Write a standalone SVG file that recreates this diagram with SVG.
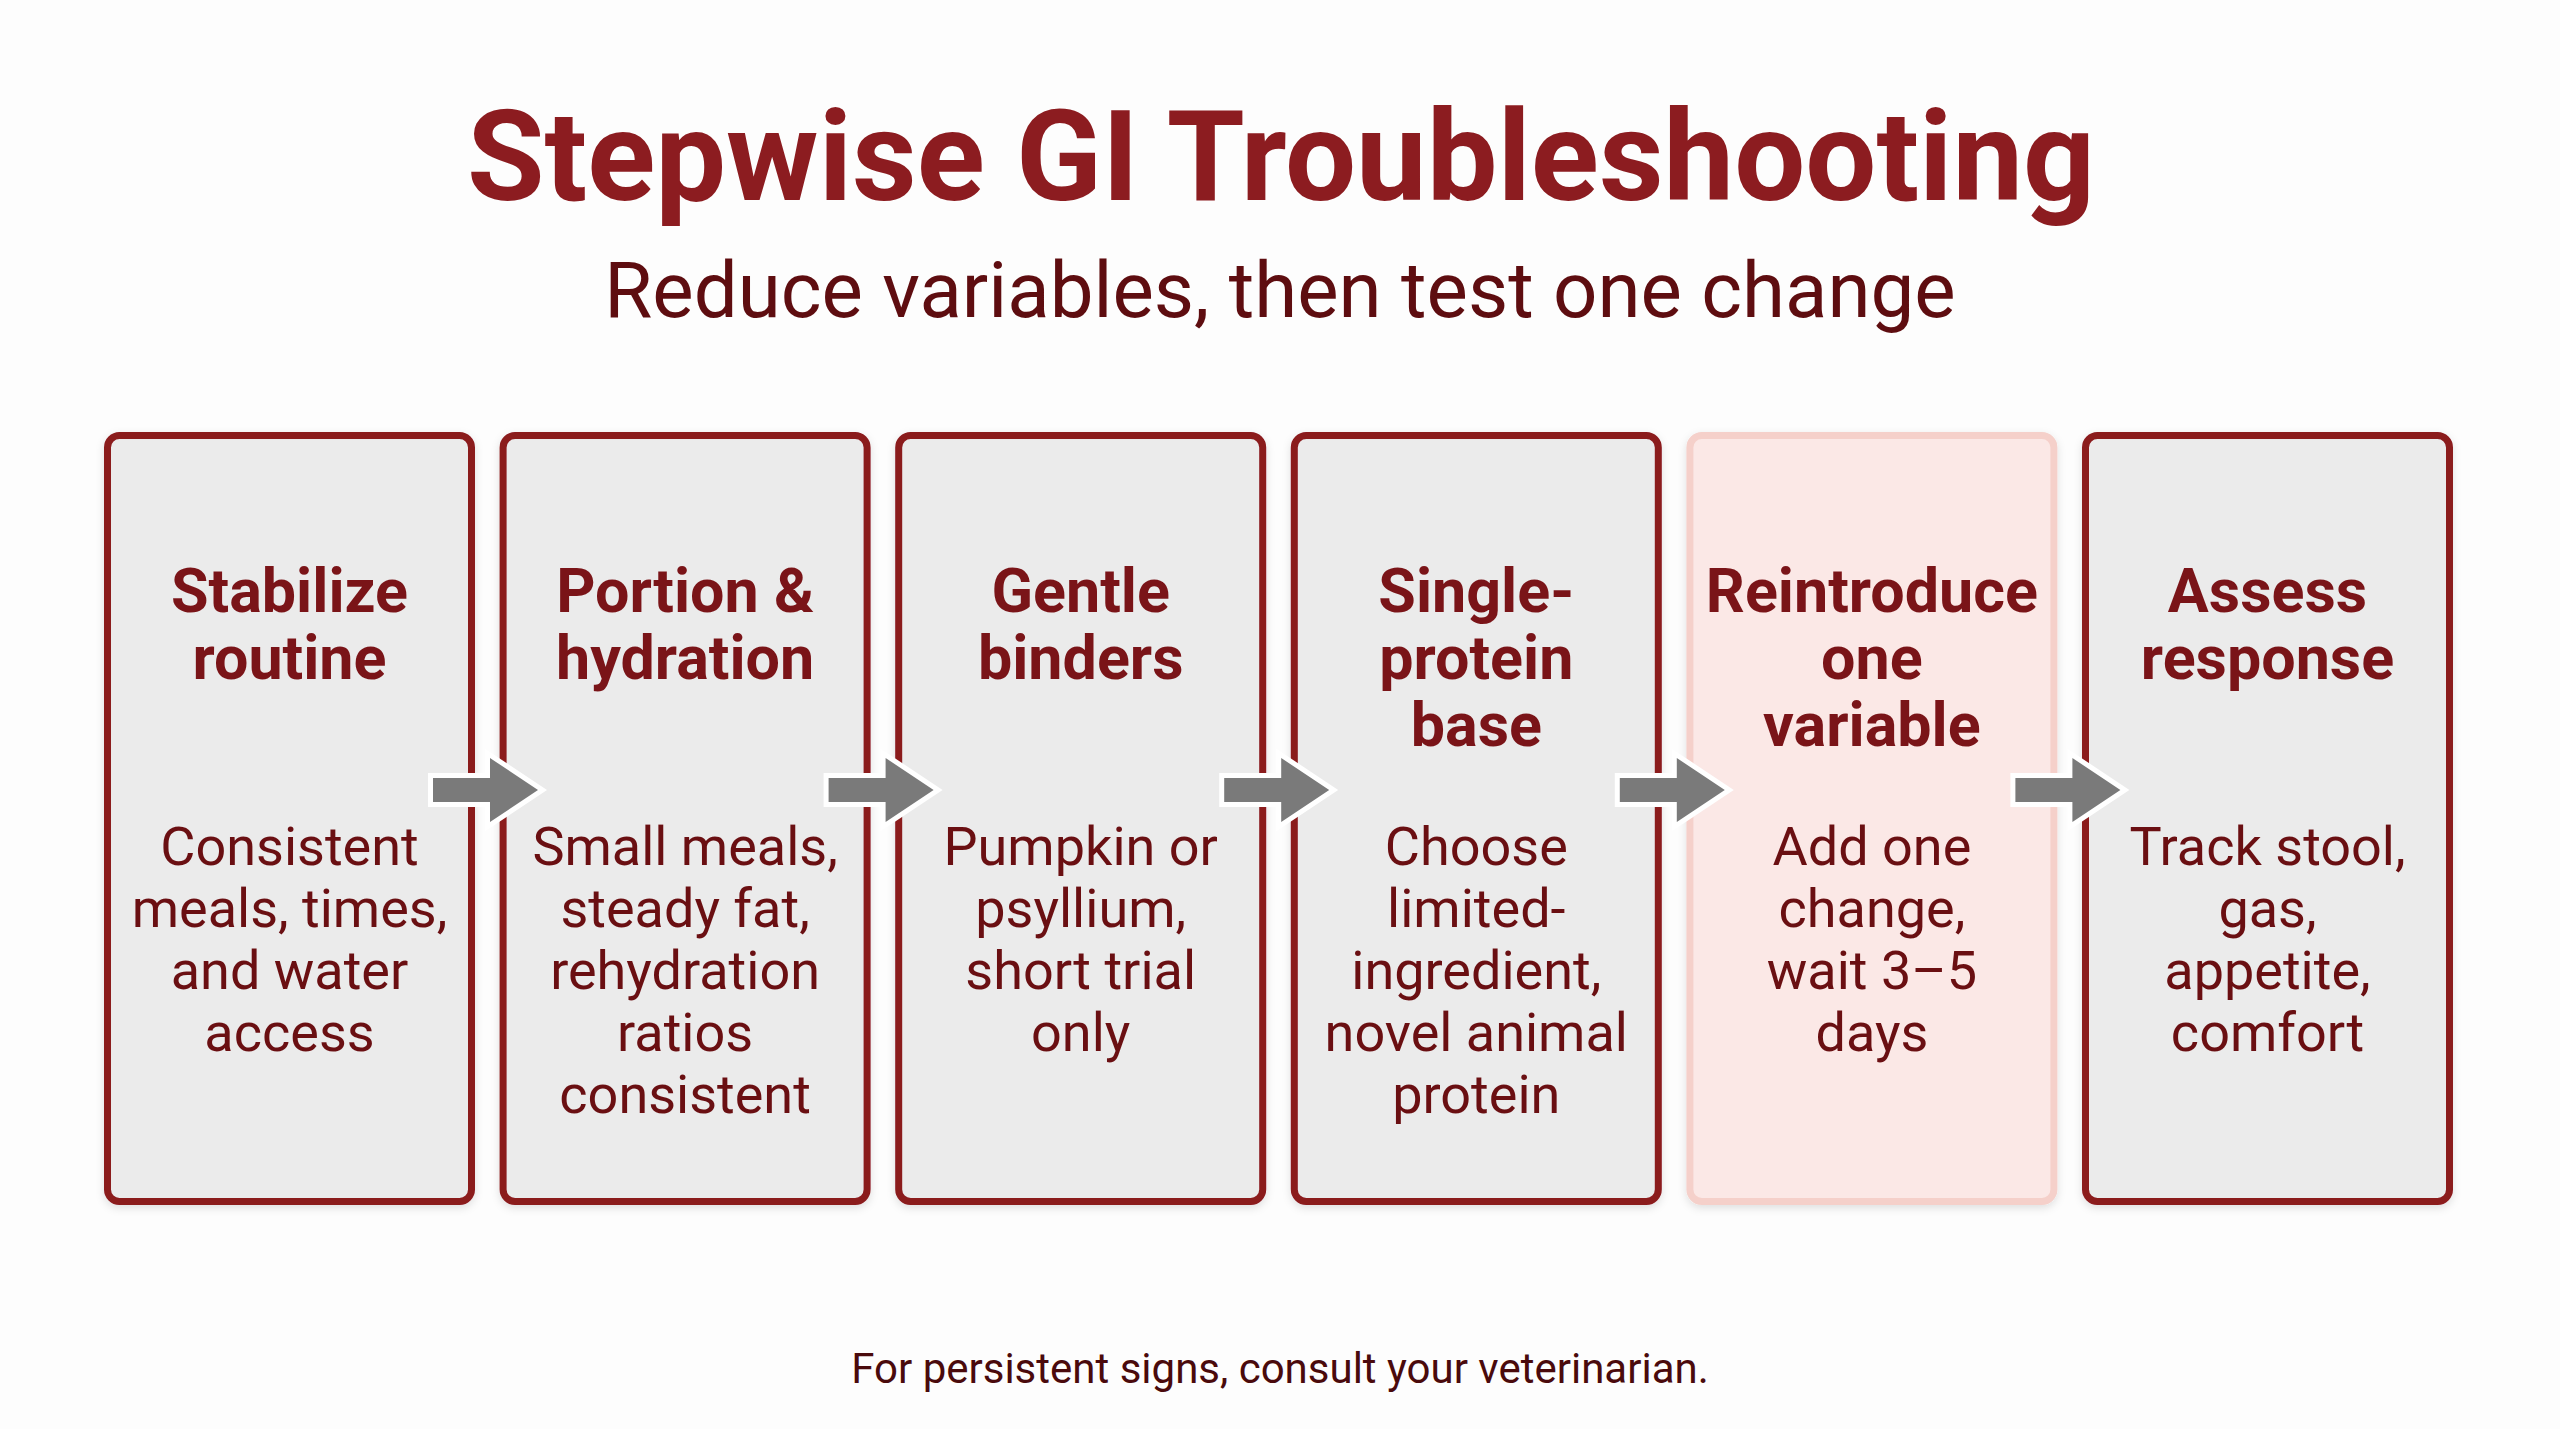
<svg xmlns="http://www.w3.org/2000/svg" width="2560" height="1429" viewBox="0 0 2560 1429">
<defs>
<style>
.bg{fill:#fdfdfd}
.title{font-family:Roboto,"Liberation Sans",sans-serif;font-weight:700;font-size:126px;fill:#8c1c20;text-anchor:middle}
.sub{font-family:Roboto,"Liberation Sans",sans-serif;font-weight:400;font-size:78px;fill:#5e0d10;text-anchor:middle}
.box{fill:#ebebeb;stroke:#8b1a1f;stroke-width:7}
.box.hl{fill:#fbe8e6;stroke:#f5d0ca}
.nt{font-family:Roboto,"Liberation Sans",sans-serif;font-weight:700;font-size:61px;fill:#7a1418;text-anchor:middle}
.nb{font-family:Roboto,"Liberation Sans",sans-serif;font-weight:400;font-size:54px;fill:#6a0f12;text-anchor:middle}
.arrow{fill:#7a7a7a;stroke:#ffffff;stroke-width:10;stroke-linejoin:miter;paint-order:stroke}
.foot{font-family:Roboto,"Liberation Sans",sans-serif;font-weight:400;font-size:42px;fill:#4a0a0c;text-anchor:middle}
</style>
<filter id="sh" x="-10%" y="-10%" width="120%" height="120%">
<feDropShadow dx="0" dy="3" stdDeviation="4" flood-color="#000" flood-opacity="0.12"/>
</filter>
</defs>
<rect class="bg" x="0" y="0" width="2560" height="1429"/>
<g id="header">
<text class="title" x="1281" y="200">Stepwise GI Troubleshooting</text>
<text class="sub" x="1280" y="317">Reduce variables, then test one change</text>
</g>
<g id="node1">
<rect class="box" x="107.5" y="435.5" width="364" height="766" rx="12" filter="url(#sh)"/>
<text class="nt" x="289.5" y="612">Stabilize</text>
<text class="nt" x="289.5" y="679">routine</text>
<text class="nb" x="289.5" y="865">Consistent</text>
<text class="nb" x="289.5" y="927">meals, times,</text>
<text class="nb" x="289.5" y="989">and water</text>
<text class="nb" x="289.5" y="1051">access</text>
</g>
<g id="node2">
<rect class="box" x="503.1" y="435.5" width="364" height="766" rx="12" filter="url(#sh)"/>
<text class="nt" x="685.1" y="612">Portion &amp;</text>
<text class="nt" x="685.1" y="679">hydration</text>
<text class="nb" x="685.1" y="865">Small meals,</text>
<text class="nb" x="685.1" y="927">steady fat,</text>
<text class="nb" x="685.1" y="989">rehydration</text>
<text class="nb" x="685.1" y="1051">ratios</text>
<text class="nb" x="685.1" y="1113">consistent</text>
</g>
<g id="node3">
<rect class="box" x="898.7" y="435.5" width="364" height="766" rx="12" filter="url(#sh)"/>
<text class="nt" x="1080.7" y="612">Gentle</text>
<text class="nt" x="1080.7" y="679">binders</text>
<text class="nb" x="1080.7" y="865">Pumpkin or</text>
<text class="nb" x="1080.7" y="927">psyllium,</text>
<text class="nb" x="1080.7" y="989">short trial</text>
<text class="nb" x="1080.7" y="1051">only</text>
</g>
<g id="node4">
<rect class="box" x="1294.3" y="435.5" width="364" height="766" rx="12" filter="url(#sh)"/>
<text class="nt" x="1476.3" y="612">Single-</text>
<text class="nt" x="1476.3" y="679">protein</text>
<text class="nt" x="1476.3" y="746">base</text>
<text class="nb" x="1476.3" y="865">Choose</text>
<text class="nb" x="1476.3" y="927">limited-</text>
<text class="nb" x="1476.3" y="989">ingredient,</text>
<text class="nb" x="1476.3" y="1051">novel animal</text>
<text class="nb" x="1476.3" y="1113">protein</text>
</g>
<g id="node5">
<rect class="box hl" x="1689.9" y="435.5" width="364" height="766" rx="12" filter="url(#sh)"/>
<text class="nt" x="1871.9" y="612">Reintroduce</text>
<text class="nt" x="1871.9" y="679">one</text>
<text class="nt" x="1871.9" y="746">variable</text>
<text class="nb" x="1871.9" y="865">Add one</text>
<text class="nb" x="1871.9" y="927">change,</text>
<text class="nb" x="1871.9" y="989">wait 3–5</text>
<text class="nb" x="1871.9" y="1051">days</text>
</g>
<g id="node6">
<rect class="box" x="2085.5" y="435.5" width="364" height="766" rx="12" filter="url(#sh)"/>
<text class="nt" x="2267.5" y="612">Assess</text>
<text class="nt" x="2267.5" y="679">response</text>
<text class="nb" x="2267.5" y="865">Track stool,</text>
<text class="nb" x="2267.5" y="927">gas,</text>
<text class="nb" x="2267.5" y="989">appetite,</text>
<text class="nb" x="2267.5" y="1051">comfort</text>
</g>
<g id="connectors">
<polygon class="arrow" points="433,778 490,778 490,758 538,790 490,822 490,802 433,802"/>
<polygon class="arrow" transform="translate(395.6,0)" points="433,778 490,778 490,758 538,790 490,822 490,802 433,802"/>
<polygon class="arrow" transform="translate(791.2,0)" points="433,778 490,778 490,758 538,790 490,822 490,802 433,802"/>
<polygon class="arrow" transform="translate(1186.8,0)" points="433,778 490,778 490,758 538,790 490,822 490,802 433,802"/>
<polygon class="arrow" transform="translate(1582.4,0)" points="433,778 490,778 490,758 538,790 490,822 490,802 433,802"/>
</g>
<g id="footer">
<text class="foot" x="1280" y="1383">For persistent signs, consult your veterinarian.</text>
</g>
</svg>
